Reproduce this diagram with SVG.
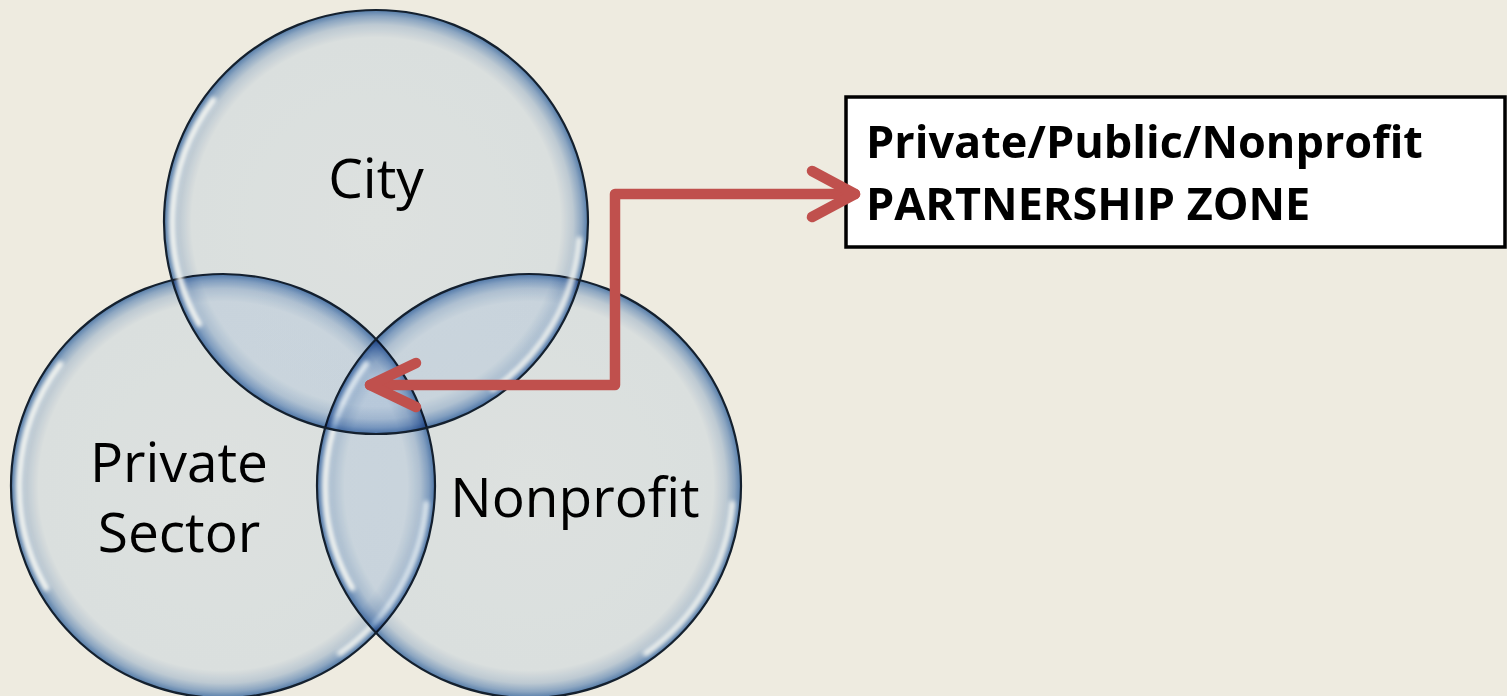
<svg xmlns="http://www.w3.org/2000/svg" xmlns:xlink="http://www.w3.org/1999/xlink" width="1507" height="696" viewBox="0 0 1507 696">
  <style>
    .bubble-fill { fill: url(#bubbleGrad); mix-blend-mode: multiply; }
    .bubble-edge { fill: none; stroke: #14202e; stroke-width: 2.2; }
    .label { font-family: "Open Sans", "Liberation Sans", sans-serif; font-size: 55px; fill: #000; text-anchor: middle; }
    .zone-text { font-family: "Open Sans", "Liberation Sans", sans-serif; font-size: 45px; font-weight: bold; fill: #000; }
    .link { fill: none; stroke: #c0504d; stroke-width: 10.5; stroke-linecap: round; stroke-linejoin: round; }
  </style>
  <defs>
    <!-- bubble body, multiplied over what lies beneath so overlaps darken -->
    <radialGradient id="bubbleGrad" cx="0.5" cy="0.5" r="0.5">
      <stop offset="0" stop-color="#edf5fe"/>
      <stop offset="0.87" stop-color="#eaf2fd"/>
      <stop offset="0.93" stop-color="#cbdbf0"/>
      <stop offset="0.97" stop-color="#96b4dc"/>
      <stop offset="1" stop-color="#5a86c0"/>
    </radialGradient>
    <filter id="soft" x="-20%" y="-20%" width="140%" height="140%">
      <feGaussianBlur stdDeviation="2"/>
    </filter>
    <!-- glossy highlight arcs, drawn around the origin -->
    <g id="gloss" filter="url(#soft)" fill="none" stroke="#fbfbf4" stroke-linecap="round">
      <path d="M -162.7 -121.8 A 204 204 0 0 0 -176.7 102" stroke-width="6" stroke-opacity="0.95"/>
      <path d="M 203.2 17.8 A 204 204 0 0 1 117 167.1" stroke-width="6" stroke-opacity="0.85"/>
    </g>
  </defs>

  <rect width="1507" height="696" fill="#eeebe0"/>

  <g id="private-sector">
    <circle class="bubble-fill" cx="223" cy="486" r="212"/>
    <use xlink:href="#gloss" x="223" y="486"/>
    <circle class="bubble-edge" cx="223" cy="486" r="212"/>
  </g>

  <g id="nonprofit">
    <circle class="bubble-fill" cx="529" cy="486" r="212"/>
    <use xlink:href="#gloss" x="529" y="486"/>
    <circle class="bubble-edge" cx="529" cy="486" r="212"/>
  </g>

  <g id="city">
    <circle class="bubble-fill" cx="376" cy="222" r="212"/>
    <use xlink:href="#gloss" x="376" y="222"/>
    <circle class="bubble-edge" cx="376" cy="222" r="212"/>
  </g>

  <g id="labels">
    <text class="label" x="376" y="198">City</text>
    <text class="label" x="179" y="482">Private</text>
    <text class="label" x="179" y="552">Sector</text>
    <text class="label" x="575" y="517">Nonprofit</text>
  </g>

  <g id="partnership-zone">
    <rect x="846" y="97" width="659" height="150" fill="#ffffff" stroke="#000000" stroke-width="3.5"/>
    <text class="zone-text" x="866" y="158">Private/Public/Nonprofit</text>
    <text class="zone-text" x="866" y="220">PARTNERSHIP ZONE</text>
  </g>

  <g id="connectors">
    <path class="link" d="M 370 385 L 615 385 L 615 194 L 855 194"/>
    <path class="link" d="M 416 363 L 370 385 L 416 407"/>
    <path class="link" d="M 812 171 L 855 194 L 812 217"/>
  </g>
</svg>
